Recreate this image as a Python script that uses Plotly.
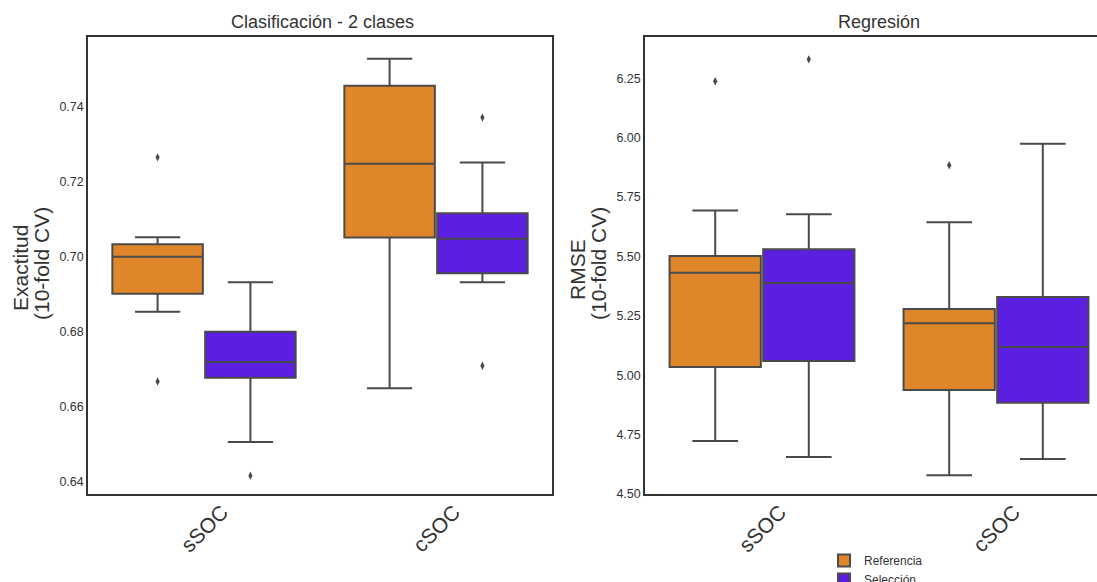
import plotly.graph_objects as go

# ---- data -----------------------------------------------------------------
categories = ["sSOC", "cSOC"]
groups = ["Referencia", "Selección"]

# Clasificación - exactitud (10-fold CV)
clf_ref_q1 = [0.6901, 0.7051]
clf_ref_med = [0.7000, 0.7248]
clf_ref_q3 = [0.7033, 0.7456]
clf_ref_lo = [0.6853, 0.6649]
clf_ref_hi = [0.7052, 0.7528]
clf_ref_out = [[0.7265, 0.6667], []]

clf_sel_q1 = [0.6677, 0.6956]
clf_sel_med = [0.6719, 0.7048]
clf_sel_q3 = [0.6800, 0.7116]
clf_sel_lo = [0.6506, 0.6932]
clf_sel_hi = [0.6932, 0.7251]
clf_sel_out = [[0.6416], [0.7371, 0.6709]]

# Regresión - RMSE (10-fold CV)
reg_ref_q1 = [5.035, 4.938]
reg_ref_med = [5.431, 5.219]
reg_ref_q3 = [5.502, 5.279]
reg_ref_lo = [4.723, 4.579]
reg_ref_hi = [5.694, 5.644]
reg_ref_out = [[6.238], [5.884]]

reg_sel_q1 = [5.060, 4.884]
reg_sel_med = [5.388, 5.119]
reg_sel_q3 = [5.530, 5.329]
reg_sel_lo = [4.656, 4.647]
reg_sel_hi = [5.678, 5.975]
reg_sel_out = [[6.330], []]

clf_ticks = [0.64, 0.66, 0.68, 0.70, 0.72, 0.74]
reg_ticks = [4.50, 4.75, 5.00, 5.25, 5.50, 5.75, 6.00, 6.25]

clf_ylabel = ["Exactitud", "(10-fold CV)"]
reg_ylabel = ["RMSE", "(10-fold CV)"]

# ---- styling --------------------------------------------------------------
W, H = 1097, 582
FONT = "Liberation Sans, Arial, sans-serif"
TEXT = "#333333"
DARK = "#333333"
EDGE = "#4a4a4a"
COLORS = {"Referencia": "#E0862A", "Selección": "#5C1EE0"}
HUE_OFFSET = {"Referencia": -0.2, "Selección": 0.2}
BOX_W = 0.39


def px_x(p):
    return p / W


def px_y(p):
    return (H - p) / H


fig = go.Figure()

panels = [
    ("x", "y", {
        "Referencia": (clf_ref_q1, clf_ref_med, clf_ref_q3, clf_ref_lo, clf_ref_hi, clf_ref_out),
        "Selección": (clf_sel_q1, clf_sel_med, clf_sel_q3, clf_sel_lo, clf_sel_hi, clf_sel_out),
    }),
    ("x2", "y2", {
        "Referencia": (reg_ref_q1, reg_ref_med, reg_ref_q3, reg_ref_lo, reg_ref_hi, reg_ref_out),
        "Selección": (reg_sel_q1, reg_sel_med, reg_sel_q3, reg_sel_lo, reg_sel_hi, reg_sel_out),
    }),
]

for i, (xa, ya, stats) in enumerate(panels):
    for g in groups:
        q1, med, q3, lo, hi, outs = stats[g]
        pos = [k + HUE_OFFSET[g] for k in range(len(categories))]
        fig.add_trace(go.Box(
            x=pos, q1=q1, median=med, q3=q3, lowerfence=lo, upperfence=hi,
            width=BOX_W, whiskerwidth=0.5,
            fillcolor=COLORS[g], line=dict(color=EDGE, width=2),
            name=g, legendgroup=g, showlegend=(i == 1),
            boxpoints=False, hoverinfo="skip",
            xaxis=xa, yaxis=ya,
        ))
        ox, oy = [], []
        for k, vals in enumerate(outs):
            for v in vals:
                ox.append(k + HUE_OFFSET[g])
                oy.append(v)
        if ox:
            fig.add_trace(go.Scatter(
                x=ox, y=oy, mode="markers",
                marker=dict(symbol="diamond-tall", size=6, color=EDGE),
                showlegend=False, hoverinfo="skip",
                xaxis=xa, yaxis=ya,
            ))

# right panel continues past the page edge: 1.5 units span 351 px
right_hi = -0.5 + (W - 645) / 234.0

common_x = dict(tickvals=[0, 1], showticklabels=False, showgrid=False,
                zeroline=False, ticks="", showline=True, linecolor=DARK,
                linewidth=1.5)
common_y = dict(showgrid=False, zeroline=False, ticks="", showline=True,
                linecolor=DARK, linewidth=1.5,
                tickfont=dict(family=FONT, size=12.5, color=TEXT),
                automargin=False)

dom_y = [px_y(494), px_y(37)]

fig.update_layout(
    width=W, height=H,
    margin=dict(l=0, r=0, t=0, b=0, autoexpand=False),
    paper_bgcolor="white", plot_bgcolor="white",
    boxmode="overlay",
    font=dict(family=FONT, color=TEXT),
    xaxis=dict(domain=[px_x(88), px_x(552)], range=[-0.5, 1.5],
               mirror=True, anchor="y", **common_x),
    yaxis=dict(domain=dom_y, range=[0.6367, 0.7586], tickvals=clf_ticks,
               ticktext=[f"{t:.2f}" for t in clf_ticks], mirror=True,
               anchor="x", **common_y),
    xaxis2=dict(domain=[px_x(645), 1.0], range=[-0.5, right_hi],
                mirror=True, anchor="y2", **common_x),
    yaxis2=dict(domain=dom_y, range=[4.5, 6.424], tickvals=reg_ticks,
                ticktext=[f"{t:.2f}" for t in reg_ticks], mirror=False,
                anchor="x2", **common_y),
    legend=dict(x=px_x(824), y=px_y(546), xanchor="left", yanchor="top",
                orientation="v", bgcolor="rgba(0,0,0,0)",
                font=dict(family=FONT, size=12, color=TEXT),
                tracegroupgap=0, itemsizing="constant"),
)

# panel titles
fig.add_annotation(text="Clasificación - 2 clases", xref="paper", yref="paper",
                   x=px_x(322), y=px_y(22), showarrow=False,
                   font=dict(family=FONT, size=18, color=TEXT),
                   xanchor="center", yanchor="middle")
fig.add_annotation(text="Regresión", xref="paper", yref="paper",
                   x=px_x(879), y=px_y(22), showarrow=False,
                   font=dict(family=FONT, size=18, color=TEXT),
                   xanchor="center", yanchor="middle")

# two-line vertical axis labels
ylabel_pos = [
    (clf_ylabel, [(20, 268), (41, 264)]),
    (reg_ylabel, [(577, 270), (598, 264)]),
]
for lines, spots in ylabel_pos:
    for text, (xp, yp) in zip(lines, spots):
        fig.add_annotation(text=text, xref="paper", yref="paper",
                           x=px_x(xp), y=px_y(yp), showarrow=False,
                           textangle=-90,
                           font=dict(family=FONT, size=21, color=TEXT),
                           xanchor="center", yanchor="middle")

# rotated category labels centred under each group
for xa in ["x", "x2"]:
    for k, c in enumerate(categories):
        fig.add_annotation(text=c, xref=xa, yref="paper", x=k, y=px_y(528),
                           showarrow=False, textangle=-45,
                           font=dict(family=FONT, size=21, color=TEXT),
                           xanchor="center", yanchor="middle")

fig.write_html("out.html")
